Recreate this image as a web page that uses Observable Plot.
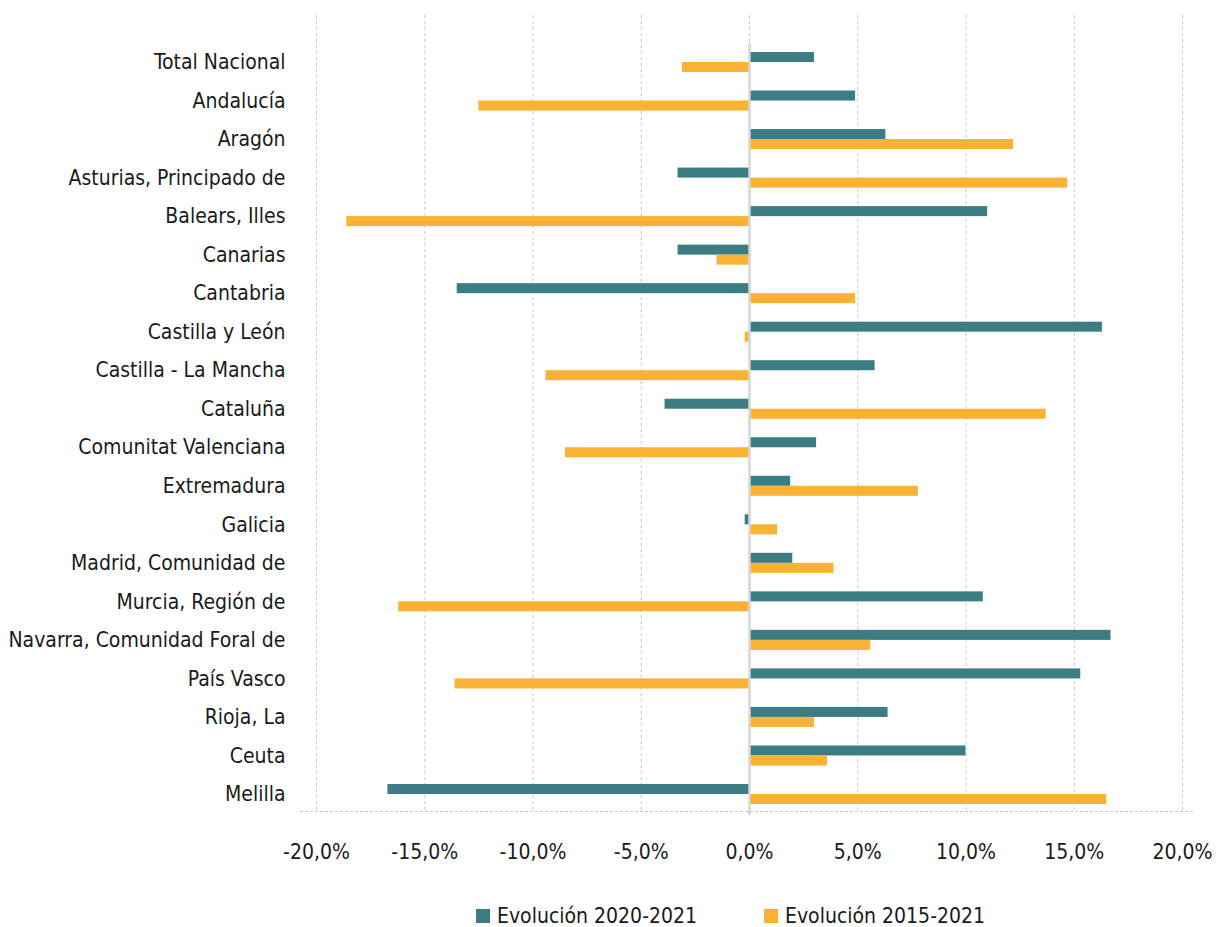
<!DOCTYPE html>
<html>
<head>
<meta charset="utf-8">
<script src="https://cdn.jsdelivr.net/npm/d3@7"></script>
<script src="https://cdn.jsdelivr.net/npm/@observablehq/plot@0.6"></script>
<style>
  html, body { margin: 0; padding: 0; background: #ffffff; overflow: hidden; }
  #wrap { width: 1216px; position: relative; font-family: "DejaVu Sans Condensed", "Liberation Sans Narrow", sans-serif; color: #1a1a1a; }
  #chart svg { display: block; }
  #legend { position: relative; height: 47px; width: 1216px; }
  .item { position: absolute; top: 26px; display: flex; align-items: center; font-size: 21px; line-height: 20px; white-space: nowrap; }
  .sw { width: 14px; height: 14px; margin-right: 7px; }
</style>
</head>
<body>
<div id="wrap">
  <div id="chart"></div>
  <div id="legend"></div>
</div>
<script>
const regions = [
  "Total Nacional", "Andalucía", "Aragón", "Asturias, Principado de", "Balears, Illes",
  "Canarias", "Cantabria", "Castilla y León", "Castilla - La Mancha", "Cataluña",
  "Comunitat Valenciana", "Extremadura", "Galicia", "Madrid, Comunidad de", "Murcia, Región de",
  "Navarra, Comunidad Foral de", "País Vasco", "Rioja, La", "Ceuta", "Melilla"
];
const evol2020_2021 = [3.0, 4.9, 6.3, -3.3, 11.0, -3.3, -13.5, 16.3, 5.8, -3.9, 3.1, 1.9, -0.2, 2.0, 10.8, 16.7, 15.3, 6.4, 10.0, -16.7];
const evol2015_2021 = [-3.1, -12.5, 12.2, 14.7, -18.6, -1.5, 4.9, -0.2, -9.4, 13.7, -8.5, 7.8, 1.3, 3.9, -16.2, 5.6, -13.6, 3.0, 3.6, 16.5];
const seriesNames = ["Evolución 2020-2021", "Evolución 2015-2021"];
const seriesColors = ["#3C7D83", "#F9B234"];
const xTicks = [-20, -15, -10, -5, 0, 5, 10, 15, 20];

const rowsA = regions.map((r, i) => ({region: r, serie: seriesNames[0], value: evol2020_2021[i]}));
const rowsB = regions.map((r, i) => ({region: r, serie: seriesNames[1], value: evol2015_2021[i]}));
const fmt = d => d.toFixed(1).replace(".", ",") + "%";

const chart = Plot.plot({
  width: 1216,
  height: 880,
  marginLeft: 316,
  marginRight: 34,
  marginTop: 15,
  marginBottom: 69,
  style: {fontFamily: '"DejaVu Sans Condensed", "Liberation Sans Narrow", sans-serif', fontSize: "21px", color: "#1a1a1a", background: "#ffffff"},
  x: {domain: [-20, 20]},
  y: {domain: regions, range: [42.75, 813.25], padding: 0, round: false},
  color: {domain: seriesNames, range: seriesColors},
  marks: [
    Plot.gridX(xTicks, {stroke: "#c8c8c8", strokeOpacity: 1, strokeDasharray: "3,3"}),
    Plot.frame({anchor: "bottom", stroke: "#c8c8c8", strokeDasharray: "2,3", insetLeft: -16, insetRight: -10}),
    Plot.barX(rowsA, {x: "value", y: "region", fill: "serie", insetTop: 9.25, insetBottom: 19.25}),
    Plot.barX(rowsB, {x: "value", y: "region", fill: "serie", insetTop: 19.25, insetBottom: 9.25}),
    Plot.ruleX([0], {stroke: "#d6d6d6", strokeWidth: 2.5, insetTop: 28, insetBottom: -4}),
    Plot.axisX(xTicks, {tickSize: 0, tickPadding: 33, tickFormat: fmt, fontSize: 21, label: null}),
    Plot.axisY({tickSize: 0, tickPadding: 31, fontSize: 21, label: null})
  ]
});
document.getElementById("chart").appendChild(chart);

const legend = document.getElementById("legend");
const lefts = [476, 764];
seriesNames.forEach((name, i) => {
  const it = document.createElement("div");
  it.className = "item";
  it.style.left = lefts[i] + "px";
  const sw = document.createElement("span");
  sw.className = "sw";
  sw.style.background = seriesColors[i];
  const tx = document.createElement("span");
  tx.textContent = name;
  it.appendChild(sw);
  it.appendChild(tx);
  legend.appendChild(it);
});
</script>
</body>
</html>
